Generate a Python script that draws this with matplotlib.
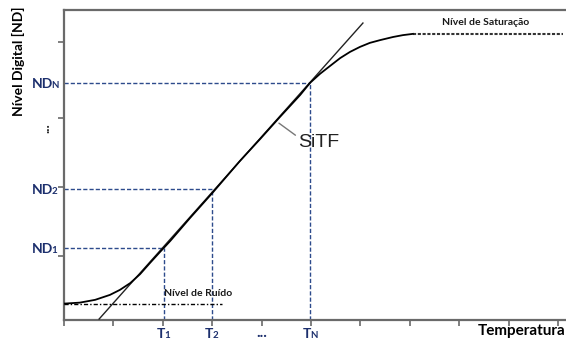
"""SiTF diagram: digital level vs. temperature, with noise and saturation levels."""
import matplotlib

matplotlib.use("Agg")
import matplotlib.pyplot as plt

# response curve (x in tick units, y in arbitrary ND units)
curve_x = [0.02, 0.32, 0.63, 0.93, 1.13, 1.34, 1.54, 1.74, 1.94, 2.15, 2.55, 3.02, 3.56,
           3.97, 4.37, 4.78, 4.98, 5.18, 5.38, 5.59, 5.79, 5.99, 6.19, 6.40, 6.66, 6.86, 7.06]
curve_y = [0.53, 0.56, 0.65, 0.81, 0.97, 1.19, 1.48, 1.84, 2.19, 2.55, 3.29, 4.13, 5.13,
           5.84, 6.55, 7.26, 7.65, 7.94, 8.19, 8.45, 8.65, 8.81, 8.94, 9.03, 9.13, 9.19, 9.23]

# straight SiTF fit line
fit_x = [0.71, 6.05]
fit_y = [0.03, 9.58]

# marked temperatures and the matching digital levels
temps = [2.02, 3.00, 4.98]
levels = [2.32, 4.23, 7.65]
subscripts = ["1", "2", "N"]

noise_level = 0.52
noise_end = 3.2
saturation_level = 9.23
saturation_span = [7.06, 10.1]

x_ticks = list(range(11))
y_ticks = [2.06, 4.3, 6.52, 8.97]

NAVY = "#1c2f6d"
DASH = "#2d4b8c"
SPINE = "#6a6a6a"


def main():
    fig = plt.figure(figsize=(5.66, 3.43), dpi=100)
    ax = fig.add_axes([0.1131, 0.0671, 0.8869, 0.9037])
    ax.set_xlim(0, 10.16)
    ax.set_ylim(0, 10)

    for side in ("left", "bottom", "top"):
        ax.spines[side].set_color(SPINE)
        ax.spines[side].set_linewidth(1.6)
    ax.spines["right"].set_visible(False)

    ax.set_xticks(x_ticks)
    ax.set_xticklabels([])
    ax.set_yticks(y_ticks)
    ax.set_yticklabels([])
    ax.tick_params(axis="both", direction="out", length=4, width=1.2, color=SPINE)

    # guide lines from the axes to the marked points
    for t, nd in zip(temps, levels):
        ax.plot([0, t], [nd, nd], color=DASH, lw=1.0, ls=(0, (3, 1.5)), zorder=2)
        ax.plot([t, t], [0, nd], color=DASH, lw=1.0, ls=(0, (3, 1.5)), zorder=2)

    ax.plot(fit_x, fit_y, color="#222222", lw=1.0, zorder=3)
    ax.plot(curve_x, curve_y, color="black", lw=1.3, zorder=4)

    ax.plot([0, noise_end], [noise_level, noise_level], color="black", lw=1.0,
            ls=(0, (3, 1.5, 1, 1.5)), zorder=3)
    ax.plot(saturation_span, [saturation_level, saturation_level], color="#333333",
            lw=1.5, ls=(0, (1.5, 0.8)), zorder=3)

    bold = dict(family="Lato", fontweight="bold")

    # y-side labels ND1, ND2, NDN
    for nd, sub in zip(levels, subscripts):
        ax.annotate("ND", xy=(0, nd), xycoords=("axes fraction", "data"),
                    xytext=(-11, -5), textcoords="offset pixels", ha="right",
                    va="baseline", fontsize=10, color=NAVY, **bold)
        ax.annotate(sub, xy=(0, nd), xycoords=("axes fraction", "data"),
                    xytext=(-12.5, -5), textcoords="offset pixels", ha="left",
                    va="baseline", fontsize=7, color=NAVY, **bold)
    ax.annotate("...", xy=(0, 6.2), xycoords=("axes fraction", "data"),
                xytext=(-19, 0), textcoords="offset pixels", ha="center",
                va="center", rotation=90, fontsize=10, color="#222222", **bold)

    # x-side labels T1, T2, TN
    for t, sub in zip(temps, subscripts):
        ax.annotate("T", xy=(t, 0), xycoords=("data", "axes fraction"),
                    xytext=(1, -18), textcoords="offset pixels", ha="right",
                    va="baseline", fontsize=10, color=NAVY, **bold)
        ax.annotate(sub, xy=(t, 0), xycoords=("data", "axes fraction"),
                    xytext=(0, -18), textcoords="offset pixels", ha="left",
                    va="baseline", fontsize=7, color=NAVY, **bold)
    ax.annotate("...", xy=(4.0, 0), xycoords=("data", "axes fraction"),
                xytext=(0, -17), textcoords="offset pixels", ha="center",
                va="baseline", fontsize=11, color=NAVY, **bold)

    fig.text(0.032, 0.82, "Nível Digital [ND]", rotation=90, ha="center", va="center",
             fontsize=10, color="black", **bold)
    fig.text(0.999, 0.035, "Temperatura", ha="right", va="center", fontsize=11,
             color="black", **bold)

    ax.text(7.65, 9.45, "Nível de Saturação", ha="left", va="bottom", fontsize=7.5,
            color="#1a1a1a", **bold)
    ax.text(2.02, 0.72, "Nível de Ruído", ha="left", va="bottom", fontsize=7.5,
            color="#1a1a1a", **bold)

    ax.annotate("SiTF", xy=(4.35, 6.35), xytext=(4.74, 5.71), ha="left", va="center",
                fontsize=14, family="Liberation Sans", color="#222222",
                arrowprops=dict(arrowstyle="-", color="#777777", lw=1.0,
                                shrinkA=0, shrinkB=0, relpos=(0.05, 0.75)))

    fig.savefig("out.png", dpi=100)
    plt.close(fig)


if __name__ == "__main__":
    main()
